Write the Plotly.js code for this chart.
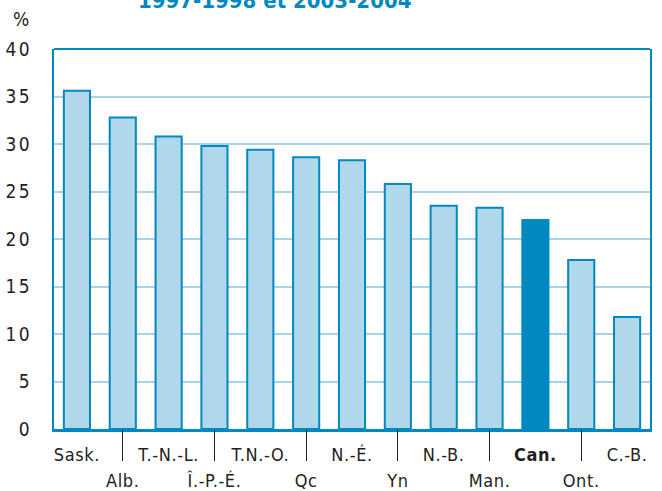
<!DOCTYPE html>
<html>
<head>
<meta charset="utf-8">
<script src="https://cdn.plot.ly/plotly-3.0.1.min.js"></script>
<style>
  html, body { margin: 0; padding: 0; background: #fff; }
  #chart { width: 662px; height: 491px; }
  .xtick text, .x2tick text { letter-spacing: 0.6px; }
  .ytick text { letter-spacing: 2.5px; }
</style>
</head>
<body>
<div id="chart"></div>
<script>
// Data
const categories = ["Sask.", "Alb.", "T.-N.-L.", "Î.-P.-É.", "T.N.-O.", "Qc", "N.-É.", "Yn", "N.-B.", "Man.", "Can.", "Ont.", "C.-B."];
const values = [35.6, 32.8, 30.8, 29.8, 29.4, 28.6, 28.3, 25.8, 23.5, 23.3, 22.0, 17.8, 11.8];
const highlight = "Can.";
const titleText = "1997-1998 et 2003-2004";
const yTicks = [0, 5, 10, 15, 20, 25, 30, 35, 40];

const upperRow = categories.filter((c, i) => i % 2 === 0);
const lowerRow = categories.filter((c, i) => i % 2 === 1);

const blue = "#0088c0";
const light = "#b0d8ea";
const font = "Liberation Sans Narrow, DejaVu Sans Condensed, Arial Narrow, sans-serif";

const fills = categories.map(c => c === highlight ? blue : light);

const traces = [
  {
    type: "bar",
    x: categories,
    y: values,
    xaxis: "x",
    yaxis: "y",
    width: 0.57,
    marker: { color: fills, line: { color: blue, width: 2 } },
    hoverinfo: "x+y"
  },
  {
    type: "scatter",
    mode: "markers",
    x: categories,
    y: values,
    xaxis: "x2",
    yaxis: "y",
    marker: { opacity: 0 },
    hoverinfo: "skip",
    showlegend: false
  }
];

const layout = {
  width: 662,
  height: 491,
  margin: { l: 54, r: 12, t: 49, b: 62 },
  paper_bgcolor: "#ffffff",
  plot_bgcolor: "#ffffff",
  showlegend: false,
  font: { family: font, size: 18, color: "#231f20" },
  xaxis: {
    type: "category",
    categoryorder: "array",
    categoryarray: categories,
    range: [-0.5, categories.length - 0.5],
    tickvals: upperRow,
    ticktext: upperRow.map(c => c === highlight ? "<b>" + c + "</b>" : c),
    ticks: "",
    ticklabelstandoff: 7,
    showline: true,
    linecolor: blue,
    linewidth: 3,
    showgrid: false,
    zeroline: false,
    tickfont: { family: font, size: 18, color: "#231f20" }
  },
  xaxis2: {
    type: "category",
    overlaying: "x",
    anchor: "y",
    side: "bottom",
    categoryorder: "array",
    categoryarray: categories,
    range: [-0.5, categories.length - 0.5],
    tickvals: lowerRow,
    ticktext: lowerRow,
    ticks: "outside",
    ticklen: 31,
    tickwidth: 1,
    tickcolor: "#231f20",
    ticklabelstandoff: 4,
    showline: false,
    showgrid: false,
    zeroline: false,
    tickfont: { family: font, size: 18, color: "#231f20" }
  },
  yaxis: {
    range: [0, 40],
    tickvals: yTicks,
    ticks: "",
    ticklabelstandoff: 16,
    showgrid: true,
    gridcolor: "#a9d4e8",
    gridwidth: 2,
    zeroline: false,
    showline: true,
    linecolor: blue,
    linewidth: 2,
    mirror: true,
    tickfont: { family: font, size: 19, color: "#231f20" }
  },
  shapes: [
    { type: "line", xref: "paper", yref: "paper", x0: 0, x1: 1, y0: 1, y1: 1, line: { color: blue, width: 2 } }
  ],
  annotations: [
    { text: "%", xref: "paper", yref: "paper", x: -0.055, y: 1.045, xanchor: "center", yanchor: "bottom", showarrow: false, font: { family: font, size: 19, color: "#231f20" } },
    { text: "<b>" + titleText + "</b>", xref: "paper", yref: "paper", x: 0.37, y: 1.09, xanchor: "center", yanchor: "bottom", showarrow: false, font: { family: font, size: 22, color: blue } }
  ]
};

Plotly.newPlot("chart", traces, layout, { displayModeBar: false, staticPlot: true });
</script>
</body>
</html>
